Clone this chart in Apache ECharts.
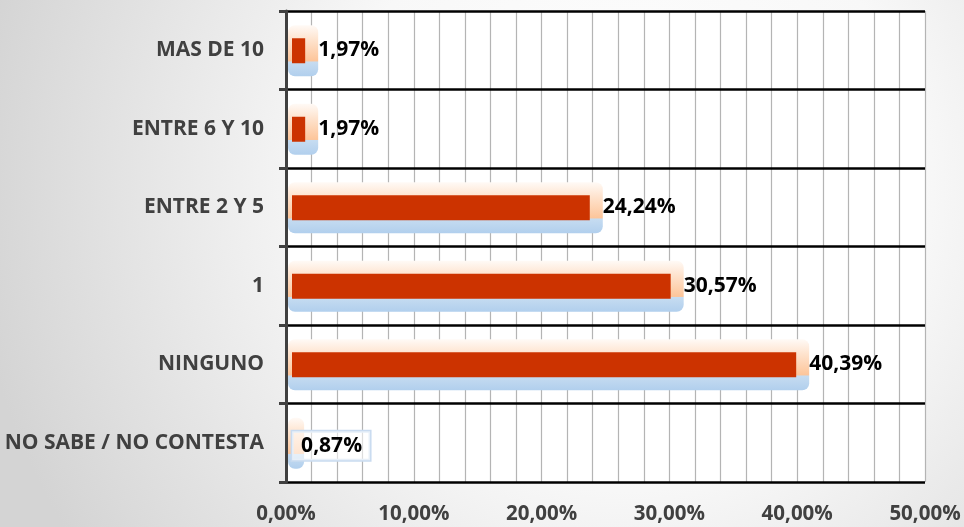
<!DOCTYPE html>
<html>
<head>
<meta charset="utf-8">
<script src="https://cdn.jsdelivr.net/npm/echarts@6/dist/echarts.min.js"></script>
<style>html,body{margin:0;padding:0;}#c{width:964px;height:527px;}</style>
</head>
<body>
<div id="c"></div>
<script>
const categories = ['MAS DE 10', 'ENTRE 6 Y 10', 'ENTRE 2 Y 5', '1', 'NINGUNO', 'NO SABE / NO CONTESTA'];
const values = [1.97, 1.97, 24.24, 30.57, 40.39, 0.87];
const xTicks = [0, 10, 20, 30, 40, 50];

const fmt = v => v.toFixed(2).replace('.', ',') + '%';
const FONT = '"Open Sans", "DejaVu Sans", sans-serif';

const chart = echarts.init(document.getElementById('c'));
chart.setOption({
  animation: false,
  backgroundColor: {
    type: 'radial', x: 0.65, y: 0.35, r: 1.25,
    colorStops: [
      { offset: 0, color: '#ffffff' },
      { offset: 0.45, color: '#f8f8f8' },
      { offset: 1, color: '#d4d4d4' }
    ]
  },
  grid: { left: 286, right: 39, top: 11, bottom: 45, show: true, backgroundColor: '#ffffff', borderWidth: 0 },
  xAxis: {
    type: 'value', min: xTicks[0], max: xTicks[xTicks.length - 1], interval: 10,
    axisLine: { show: false }, axisTick: { show: false },
    axisLabel: { formatter: v => fmt(v), color: '#404040', fontFamily: FONT, fontWeight: 'bold', fontSize: 20.5, margin: 22 },
    splitLine: { show: true, lineStyle: { color: '#b4b4b4', width: 1.2 } },
    minorTick: { show: false, splitNumber: 5 },
    minorSplitLine: { show: true, lineStyle: { color: '#b4b4b4', width: 1.2 } }
  },
  yAxis: {
    type: 'category', data: categories, inverse: true,
    axisLine: { show: true, lineStyle: { color: '#404040', width: 3 } },
    axisTick: { show: true, length: 7, lineStyle: { color: '#404040', width: 3 } },
    axisLabel: { color: '#404040', fontFamily: FONT, fontWeight: 'bold', fontSize: 21, margin: 22 },
    splitLine: { show: true, lineStyle: { color: '#000000', width: 2.5 } },
    z: 5
  },
  series: [{
    type: 'custom',
    encode: { x: 0, y: 1 },
    data: values.map((v, i) => [v, i]),
    z: 3,
    renderItem: function (params, api) {
      const v = api.value(0);
      const idx = api.value(1);
      const p = api.coord([v, idx]);
      const x0 = api.coord([0, idx])[0];
      const xv = p[0], cy = p[1];
      const children = [];
      children.push({
        type: 'rect',
        shape: { x: x0 + 2, y: cy - 25, width: xv + 7 - (x0 + 2), height: 51, r: 7 },
        style: {
          fill: {
            type: 'linear', x: 0, y: 0, x2: 0, y2: 1,
            colorStops: [
              { offset: 0, color: '#fffaf6' },
              { offset: 0.3, color: '#fee2cc' },
              { offset: 0.7, color: '#fdc59a' },
              { offset: 0.72, color: '#c6dcf1' },
              { offset: 1, color: '#b1cfed' }
            ]
          }
        }
      });
      const rw = (xv - 6) - (x0 + 6);
      if (rw > 0) {
        children.push({
          type: 'rect',
          shape: { x: x0 + 6, y: cy - 12, width: rw, height: 25 },
          style: { fill: '#cc3300' }
        });
      }
      const small = v < 1.5;
      const textStyle = {
        text: fmt(v),
        fill: '#000000',
        font: 'bold 21px ' + FONT,
        verticalAlign: 'middle',
        align: 'left'
      };
      if (small) {
        Object.assign(textStyle, {
          backgroundColor: 'rgba(255,255,255,0.55)',
          borderColor: '#c9dbf0', borderWidth: 1.5,
          padding: [4, 8, 4, 9]
        });
      }
      children.push({
        type: 'text',
        x: small ? xv - 5 : xv + 7,
        y: small ? cy + 3 : cy,
        style: textStyle,
        z2: 10
      });
      return { type: 'group', children: children };
    }
  }]
});
</script>
</body>
</html>
